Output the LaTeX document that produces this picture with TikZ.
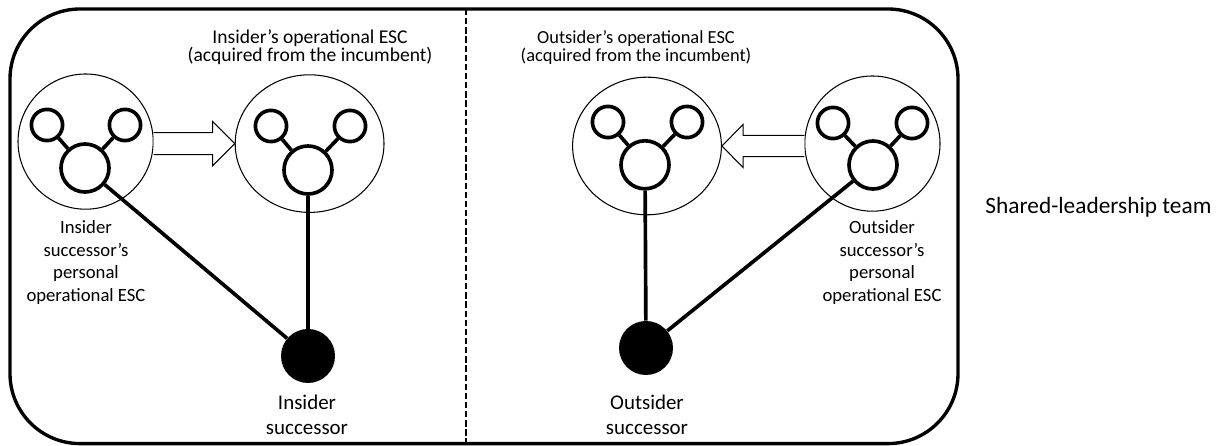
\documentclass[tikz,border=0pt]{standalone}
\usepackage{fontspec}
\setmainfont{Carlito}
\usetikzlibrary{shapes.geometric,calc}

\tikzset{
	esc/.style={circle, draw, line width=0.75pt, minimum size=3.38cm, inner sep=0pt},
	escop/.style={ellipse, draw, line width=0.75pt, minimum width=3.72cm, minimum height=3.44cm, inner sep=0pt},
	skill/.style={circle, draw, line width=2.6pt, minimum size=0.78cm, inner sep=0pt},
	hub/.style={circle, draw, line width=2.6pt, minimum size=1.2cm, inner sep=0pt},
	succ/.style={circle, fill=black, minimum size=1.35cm, inner sep=0pt},
	tie/.style={line width=2.6pt},
	blockarr/.style={line width=0.75pt, fill=white},
	lbl/.style={align=center, inner sep=0pt, font=\fontsize{13.3}{16.1}\selectfont},
	toplbl/.style={anchor=base, inner sep=0pt, font=\fontsize{#1}{16}\selectfont},
}

\begin{document}
\begin{tikzpicture}
	\useasboundingbox (0,0) rectangle (30.575,11.15);
	% le cadre
	\draw[line width=2.4pt, rounded corners=1.75cm] (0.25,0.06) rectangle (23.95,10.925);
	\draw[line width=1.6pt, dash pattern=on 4.5pt off 2pt] (11.65,10.925) -- (11.65,0.06);
	% insider
	\node[esc] (pa) at (2.14,7.61) {};
	\node[skill] (la) at (1.175,8.025) {};
	\node[skill] (ra) at (3.125,8.025) {};
	\node[hub] (ma) at (2.125,6.95) {};
	\draw[tie] (ma) -- (la);
	\draw[tie] (ma) -- (ra);
	\node[escop] (pb) at (7.74,7.56) {};
	\node[skill] (lb) at (6.775,8.0) {};
	\node[skill] (rb) at (8.75,8.0) {};
	\node[hub] (mb) at (7.7,6.9) {};
	\draw[tie] (mb) -- (lb);
	\draw[tie] (mb) -- (rb);
	\node[succ] (si) at (7.7,2.25) {};
	\draw[tie] (ma) -- (si);
	\draw[tie] (mb) -- (si);
	\coordinate (ta) at (pa.east |- pb.west);
	\draw[blockarr] ($(ta)+(0,0.275)$) -- ($(pb.west)+(-0.55,0.275)$) -- ($(pb.west)+(-0.55,0.55)$)
		-- (pb.west) -- ($(pb.west)+(-0.55,-0.55)$) -- ($(pb.west)+(-0.55,-0.275)$) -- ($(ta)+(0,-0.275)$);
	\node[lbl] (tpa) at (2.15,4.59) {Insider\\successor’s\\personal\\operational ESC};
	\node[toplbl=13.9] (tpb) at (7.75,10.05) {Insider’s operational ESC};
	\node[toplbl=13.9] (tpb2) at (7.75,9.62) {(acquired from the incumbent)};
	\node[lbl, font=\fontsize{14.9}{17.8}\selectfont] (tsi) at (7.675,0.79) {Insider\\successor};
	% outsider
	\node[escop] (pc) at (16.175,7.5) {};
	\node[skill] (lc) at (15.2,8.1) {};
	\node[skill] (rc) at (17.175,8.1) {};
	\node[hub] (mc) at (16.125,7.03) {};
	\draw[tie] (mc) -- (lc);
	\draw[tie] (mc) -- (rc);
	\node[esc] (pd) at (21.81,7.56) {};
	\node[skill] (ld) at (20.825,8.075) {};
	\node[skill] (rd) at (22.8,8.075) {};
	\node[hub] (md) at (21.825,7.025) {};
	\draw[tie] (md) -- (ld);
	\draw[tie] (md) -- (rd);
	\node[succ] (so) at (16.15,2.45) {};
	\draw[tie] (mc) -- (so);
	\draw[tie] (md) -- (so);
	\coordinate (td) at (pd.west |- pc.east);
	\draw[blockarr] ($(td)+(0,0.265)$) -- ($(pc.east)+(0.53,0.265)$) -- ($(pc.east)+(0.53,0.54)$)
		-- (pc.east) -- ($(pc.east)+(0.53,-0.54)$) -- ($(pc.east)+(0.53,-0.265)$) -- ($(td)+(0,-0.265)$);
	\node[lbl] (tpd) at (22.05,4.59) {Outsider\\successor’s\\personal\\operational ESC};
	\node[toplbl=13.1] (tpc) at (15.9,10.05) {Outsider’s operational ESC};
	\node[toplbl=13.1] (tpc2) at (15.9,9.62) {(acquired from the incumbent)};
	\node[lbl, font=\fontsize{14.9}{17.8}\selectfont] (tso) at (16.175,0.79) {Outsider\\successor};
	% l'équipe
	\node[lbl, font=\fontsize{16.6}{20}\selectfont] (team) at (27.46,5.975) {Shared-leadership team};
\end{tikzpicture}
\end{document}
